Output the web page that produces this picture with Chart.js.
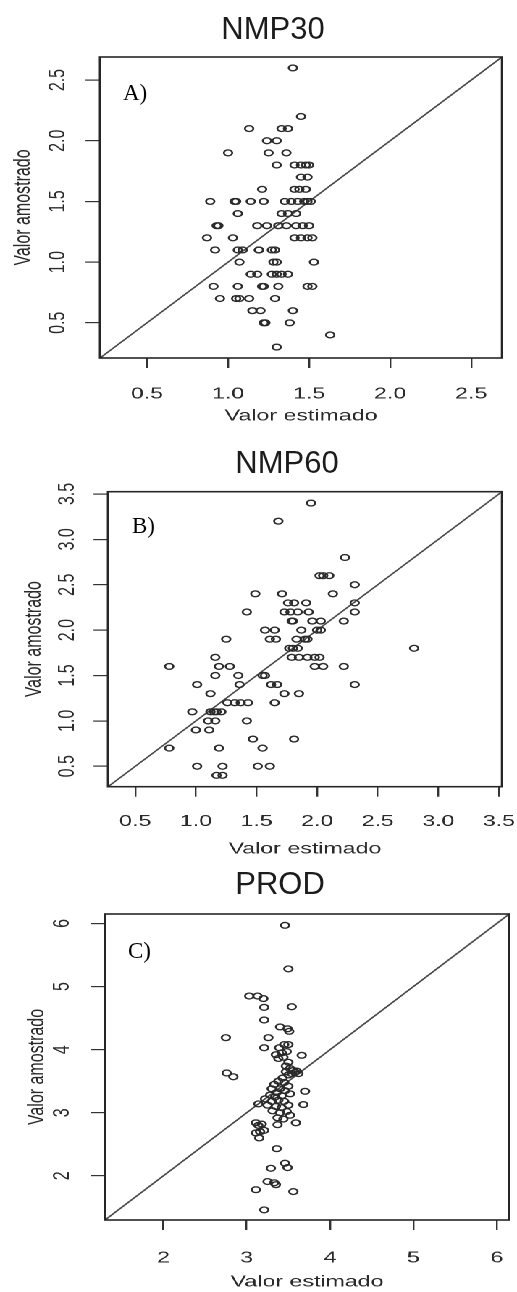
<!DOCTYPE html>
<html>
<head>
<meta charset="utf-8">
<script src="https://cdn.jsdelivr.net/npm/chart.js@4.4.0/dist/chart.umd.min.js"></script>
<style>
  html, body { margin: 0; padding: 0; background: #fff; }
  body { width: 517px; height: 1292px; position: relative; overflow: hidden; }
  /* the original figure is stretched horizontally, so the plots are drawn narrow and widened */
  #stretch { position: absolute; left: 0; top: 0; width: 357px; height: 1292px;
             transform: scaleX(1.4482); transform-origin: 0 0; }
  #stretch canvas { position: absolute; left: 0; }
  .title { position: absolute; font-family: "Liberation Sans", Arial, sans-serif; font-size: 31px;
           line-height: 1; color: #1c1c1c; transform: translateX(-50%); white-space: nowrap; }
  .tag { position: absolute; font-family: "Liberation Serif", "Times New Roman", serif; font-size: 23px;
         line-height: 1; color: #000; }
</style>
</head>
<body>
<div id="stretch">
  <canvas id="cA"></canvas>
  <canvas id="cB"></canvas>
  <canvas id="cC"></canvas>
</div>
<div class="title" style="left:273px; top:13px;">NMP30</div>
<div class="title" style="left:287px; top:447px;">NMP60</div>
<div class="title" style="left:280px; top:868px;">PROD</div>
<div class="tag" style="left:123px; top:81px;">A)</div>
<div class="tag" style="left:132px; top:514px;">B)</div>
<div class="tag" style="left:128px; top:939px;">C)</div>

<script>
/* ---------- data ---------- */
// NMP30
const nmp30Limites = [0.21, 2.69];
const nmp30Estimado = [
  1.40, 1.45, 1.13, 1.33, 1.37, 1.24, 1.30, 1.00, 1.25, 1.36,
  1.30, 1.41, 1.45, 1.48, 1.50, 1.45, 1.49, 1.21, 1.41, 1.44, 1.48,
  0.89, 1.04, 1.05, 1.14, 1.22, 1.35, 1.39, 1.43, 1.47, 1.49, 1.51,
  1.06, 1.33, 1.37, 1.42,
  0.93, 0.94, 1.18, 1.24, 1.31, 1.36, 1.42, 1.46, 1.50,
  0.87, 1.03, 1.41, 1.45, 1.49, 1.52,
  0.92, 1.06, 1.09, 1.19, 1.19, 1.27, 1.29,
  1.07, 1.28, 1.30, 1.53,
  1.14, 1.18, 1.27, 1.30, 1.33, 1.37,
  0.91, 1.06, 1.21, 1.22, 1.31, 1.49, 1.52,
  0.95, 1.05, 1.07, 1.13, 1.29,
  1.15, 1.20, 1.40, 1.22, 1.23, 1.38, 1.63, 1.30
];
const nmp30Amostrado = [
  2.6, 2.2, 2.1, 2.1, 2.1, 2.0, 2.0, 1.9, 1.9, 1.9,
  1.8, 1.8, 1.8, 1.8, 1.8, 1.7, 1.7, 1.6, 1.6, 1.6, 1.6,
  1.5, 1.5, 1.5, 1.5, 1.5, 1.5, 1.5, 1.5, 1.5, 1.5, 1.5,
  1.4, 1.4, 1.4, 1.4,
  1.3, 1.3, 1.3, 1.3, 1.3, 1.3, 1.3, 1.3, 1.3,
  1.2, 1.2, 1.2, 1.2, 1.2, 1.2,
  1.1, 1.1, 1.1, 1.1, 1.1, 1.1, 1.1,
  1.0, 1.0, 1.0, 1.0,
  0.9, 0.9, 0.9, 0.9, 0.9, 0.9,
  0.8, 0.8, 0.8, 0.8, 0.8, 0.8, 0.8,
  0.7, 0.7, 0.7, 0.7, 0.7,
  0.6, 0.6, 0.6, 0.5, 0.5, 0.5, 0.4, 0.3
];

// NMP60
const nmp60Limites = [0.275, 3.525];
const nmp60Estimado = [
  1.95, 1.68, 2.23, 2.02, 2.05, 2.10, 2.31, 1.49, 1.71, 2.13,
  1.76, 1.81, 1.91, 2.31, 1.42, 1.73, 1.78, 1.84, 1.93, 2.31,
  1.79, 1.80, 1.96, 2.03, 2.22, 1.57, 1.65, 1.87, 2.00, 2.03,
  1.25, 1.61, 1.66, 1.83, 1.90, 1.92, 1.77, 1.80, 1.84, 2.80,
  1.16, 1.79, 1.85, 1.92, 1.98, 2.02, 0.78, 1.19, 1.28, 1.98, 2.05, 2.22,
  1.16, 1.35, 1.55, 1.57, 1.01, 1.36, 1.62, 1.67, 2.31,
  1.12, 1.73, 1.85, 1.26, 1.32, 1.37, 1.43, 1.65,
  0.97, 1.12, 1.15, 1.17, 1.21, 1.10, 1.16, 1.42, 1.00, 1.11,
  1.47, 1.81, 0.78, 1.19, 1.55, 1.01, 1.22, 1.51, 1.61, 1.17, 1.22
];
const nmp60Amostrado = [
  3.4, 3.2, 2.8, 2.6, 2.6, 2.6, 2.5, 2.4, 2.4, 2.4,
  2.3, 2.3, 2.3, 2.3, 2.2, 2.2, 2.2, 2.2, 2.2, 2.2,
  2.1, 2.1, 2.1, 2.1, 2.1, 2.0, 2.0, 2.0, 2.0, 2.0,
  1.9, 1.9, 1.9, 1.9, 1.9, 1.9, 1.8, 1.8, 1.8, 1.8,
  1.7, 1.7, 1.7, 1.7, 1.7, 1.7, 1.6, 1.6, 1.6, 1.6, 1.6, 1.6,
  1.5, 1.5, 1.5, 1.5, 1.4, 1.4, 1.4, 1.4, 1.4,
  1.3, 1.3, 1.3, 1.2, 1.2, 1.2, 1.2, 1.2,
  1.1, 1.1, 1.1, 1.1, 1.1, 1.0, 1.0, 1.0, 0.9, 0.9,
  0.8, 0.8, 0.7, 0.7, 0.7, 0.5, 0.5, 0.5, 0.5, 0.4, 0.4
];

// PROD
const prodLimites = [1.30, 6.15];
const prodEstimado = [
  3.46, 3.50, 3.03, 3.13, 3.20, 3.21, 3.54, 3.21, 3.40, 3.49, 3.51,
  2.75, 3.26, 3.21, 3.39, 3.45, 3.50, 3.35, 3.42, 3.48, 3.66,
  3.44, 3.38, 3.50, 3.47, 2.76, 2.84,
  3.52, 3.56, 3.58, 3.60, 3.54, 3.50, 3.47, 3.62,
  3.43, 3.38, 3.33, 3.45, 3.50, 3.30, 3.40, 3.36, 3.46, 3.70,
  3.28, 3.34, 3.42, 3.52, 3.22, 3.30, 3.38, 3.45,
  3.14, 3.25, 3.35, 3.42, 3.50, 3.68, 3.31, 3.40, 3.48, 3.52,
  3.37, 3.44, 3.59, 3.37, 3.11, 3.14, 3.18, 3.11, 3.16, 3.21, 3.15,
  3.36, 3.46, 3.49, 3.29, 3.25, 3.33, 3.35, 3.11, 3.56, 3.21
];
const prodAmostrado = [
  5.97, 5.28, 4.85, 4.85, 4.81, 4.67, 4.68, 4.47, 4.36, 4.33, 4.29,
  4.19, 4.19, 4.03, 4.03, 4.08, 4.08, 3.92, 3.95, 3.97, 3.91,
  3.88, 3.86, 3.80, 3.74, 3.63, 3.57,
  3.70, 3.67, 3.64, 3.66, 3.62, 3.60, 3.65, 3.62,
  3.55, 3.50, 3.45, 3.48, 3.42, 3.38, 3.38, 3.32, 3.35, 3.34,
  3.28, 3.25, 3.27, 3.30, 3.22, 3.18, 3.20, 3.18,
  3.14, 3.12, 3.10, 3.08, 3.12, 3.13, 3.03, 3.00, 3.02, 2.96,
  2.92, 2.90, 2.84, 2.81, 2.84, 2.80, 2.82, 2.68, 2.70, 2.72, 2.60,
  2.43, 2.20, 2.13, 2.12, 1.91, 1.89, 1.86, 1.78, 1.75, 1.46
];

/* ---------- layout (page pixels of the reference) ---------- */
const S = 517 / 357;          // horizontal stretch of the figure
const W = 357;                // canvas width before stretching

const panels = [
  { id: "cA", est: nmp30Estimado, amo: nmp30Amostrado, lim: nmp30Limites, step: 0.5,
    top: 0, h: 430, area: [100, 502, 57, 358], xPad: 16.4, yPad: 8, yTitlePad: 6.3, xTitleY: 416 },
  { id: "cB", est: nmp60Estimado, amo: nmp60Amostrado, lim: nmp60Limites, step: 0.5,
    top: 430, h: 432, area: [108, 502, 491.7, 786.7], xPad: 15.4, yPad: 7, yTitlePad: 13.9, xTitleY: 849 },
  { id: "cC", est: prodEstimado, amo: prodAmostrado, lim: prodLimites, step: 1,
    top: 862, h: 430, area: [105, 510, 914, 1220], xPad: 18.4, yPad: 15, yTitlePad: 16, xTitleY: 1282 }
];

const FONT = { family: "'Liberation Sans', Arial, sans-serif", size: 16 };

/* box around the plot region, like R's box() */
const frame = {
    id: "frame",
    afterDatasetsDraw(chart) {
        const { ctx, chartArea: a } = chart;
        ctx.save();
        ctx.strokeStyle = "#262626";
        ctx.lineWidth = 1.6;
        ctx.strokeRect(a.left, a.top, a.right - a.left, a.bottom - a.top);
        ctx.restore();
    }
};

function makeChart(p) {
    const canvas = document.getElementById(p.id);
    canvas.style.top = p.top + "px";
    canvas.style.width = W + "px";
    canvas.style.height = p.h + "px";
    canvas.width = W;
    canvas.height = p.h;

    const left = p.area[0] / S;
    const right = p.area[1] / S;
    const top = p.area[2] - p.top;
    const bottom = p.area[3] - p.top;
    const xH = p.xTitleY - p.area[3] + FONT.size * 0.6;

    const tickGrid = { drawOnChartArea: false, drawTicks: true, tickLength: 10, color: "#333", lineWidth: 1.2 };

    new Chart(canvas, {
        type: "scatter",
        data: {
            datasets: [
                {
                    data: p.est.map((x, i) => ({ x: x, y: p.amo[i] })),
                    pointStyle: "circle",
                    pointRadius: 2.9,
                    pointBorderWidth: 1.35,
                    borderColor: "#2b2b2b",
                    backgroundColor: "rgba(0,0,0,0)"
                },
                {
                    data: p.lim.map(v => ({ x: v, y: v })),
                    showLine: true,
                    pointRadius: 0,
                    borderColor: "#484848",
                    borderWidth: 1.3
                }
            ]
        },
        options: {
            responsive: false,
            animation: false,
            devicePixelRatio: 2,
            layout: { padding: { left: 0, right: W - right, top: top, bottom: p.h - bottom - xH } },
            plugins: { legend: { display: false }, tooltip: { enabled: false } },
            scales: {
                x: {
                    type: "linear",
                    min: p.lim[0],
                    max: p.lim[1],
                    grid: tickGrid,
                    border: { display: false },
                    ticks: { stepSize: p.step, includeBounds: false, autoSkip: false, maxRotation: 0,
                             padding: p.xPad, color: "#2a2a2a", font: FONT },
                    title: { display: true, text: "Valor estimado", color: "#2a2a2a", font: FONT,
                             padding: { top: 0, bottom: 0 } },
                    afterFit(s) { s.height = xH; s.paddingLeft = 0; s.paddingRight = 0; }
                },
                y: {
                    type: "linear",
                    min: p.lim[0],
                    max: p.lim[1],
                    grid: tickGrid,
                    border: { display: false },
                    ticks: { stepSize: p.step, includeBounds: false, autoSkip: false,
                             minRotation: 90, maxRotation: 90, crossAlign: "center",
                             padding: p.yPad, color: "#2a2a2a", font: FONT },
                    title: { display: true, text: "Valor amostrado", color: "#2a2a2a", font: FONT,
                             padding: { top: p.yTitlePad, bottom: 0 } },
                    afterFit(s) { s.width = left; s.paddingTop = 0; s.paddingBottom = 0; }
                }
            }
        },
        plugins: [frame]
    });
}

panels.forEach(makeChart);
</script>
</body>
</html>
